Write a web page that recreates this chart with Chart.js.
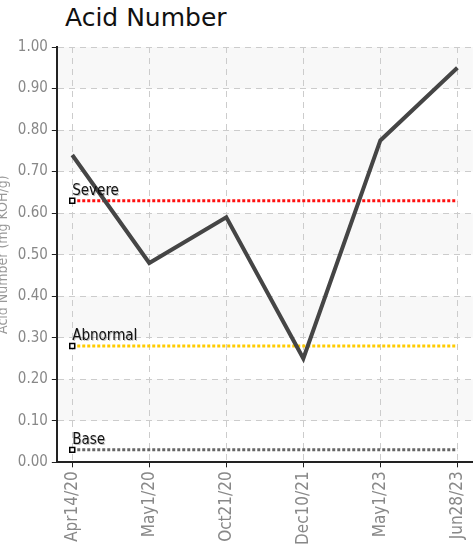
<!DOCTYPE html>
<html>
<head>
<meta charset="utf-8">
<script src="https://cdn.jsdelivr.net/npm/chart.js@4.4.0/dist/chart.umd.min.js"></script>
<style>
  html, body { margin: 0; padding: 0; background: #fff; overflow: hidden; }
  #wrap { position: relative; width: 474px; height: 549px; overflow: hidden; }
  #titulo { position: absolute; left: 65px; top: 3px; font: 25px "DejaVu Sans", sans-serif; color: #111; }
  #lienzo { position: absolute; left: -5px; top: 0; width: 487px; height: 549px; }
</style>
</head>
<body>
<div id="wrap">
  <div id="titulo">Acid Number</div>
  <div id="lienzo"><canvas id="grafico"></canvas></div>
</div>
<script>
// Datos de la gráfica
const fechas = ['Apr14/20', 'May1/20', 'Oct21/20', 'Dec10/21', 'May1/23', 'Jun28/23'];
const acidNumber = [0.74, 0.48, 0.59, 0.25, 0.775, 0.95];
const severo = 0.63;
const anormal = 0.28;
const base = 0.03;
const nombresLimites = ['Severe', 'Abnormal', 'Base'];

const fuente = '"DejaVu Sans Condensed", "Liberation Sans Narrow", sans-serif';

// puntos x,y a partir de las fechas
const puntos = (vals) => vals.map((v, i) => ({ x: i, y: v }));
const linea = (v) => fechas.map((f, i) => ({ x: i, y: v }));

// franjas grises alternas
const franjas = {
  id: 'franjas',
  beforeDraw(chart) {
    const { ctx, chartArea, scales } = chart;
    ctx.save();
    ctx.fillStyle = '#f8f8f8';
    for (let v = 0.1; v < 1.0; v += 0.2) {
      const y1 = scales.y.getPixelForValue(v + 0.1);
      const y2 = scales.y.getPixelForValue(v);
      ctx.fillRect(chartArea.left, y1, chartArea.right - chartArea.left, y2 - y1);
    }
    ctx.restore();
  }
};

// etiquetas de los limites
const etiquetas = {
  id: 'etiquetas',
  afterDatasetsDraw(chart) {
    const { ctx } = chart;
    ctx.save();
    ctx.font = '15px ' + fuente;
    ctx.textBaseline = 'alphabetic';
    [1, 2, 3].forEach((d, k) => {
      const p = chart.getDatasetMeta(d).data[0];
      ctx.fillStyle = 'rgba(0,0,0,0.25)';
      ctx.fillText(nombresLimites[k], p.x + 1, p.y - 5);
      ctx.fillStyle = '#111';
      ctx.fillText(nombresLimites[k], p.x, p.y - 6);
    });
    ctx.restore();
  }
};

function serieLimite(valor, color) {
  return {
    data: linea(valor),
    borderColor: color,
    borderWidth: 3,
    borderDash: [3, 2],
    pointRadius: [3.5, 0, 0, 0, 0, 0],
    pointStyle: 'rect',
    pointBackgroundColor: '#fff',
    pointBorderColor: '#000',
    pointBorderWidth: 1.5,
    fill: false
  };
}

new Chart(document.getElementById('grafico'), {
  type: 'line',
  data: {
    datasets: [
      {
        data: puntos(acidNumber),
        borderColor: '#454545',
        borderWidth: 4,
        pointRadius: 0,
        tension: 0
      },
      serieLimite(severo, '#ff1010'),
      serieLimite(anormal, '#ffcc00'),
      serieLimite(base, '#666666')
    ]
  },
  options: {
    responsive: true,
    maintainAspectRatio: false,
    animation: false,
    layout: { padding: { top: 47, right: 0, bottom: 0, left: 0 } },
    plugins: {
      legend: { display: false },
      tooltip: { enabled: false }
    },
    scales: {
      x: {
        type: 'linear',
        min: -0.2,
        max: 5.2,
        afterBuildTicks: (s) => { s.ticks = fechas.map((f, i) => ({ value: i })); },
        ticks: {
          autoSkip: false,
          minRotation: 90,
          maxRotation: 90,
          color: '#888',
          font: { family: fuente, size: 17 },
          padding: 4,
          callback: (v) => fechas[v]
        },
        grid: { color: '#cccccc', tickColor: '#222', tickLength: 5, tickBorderDash: [] },
        border: { color: '#222', width: 2, dash: [6, 5] }
      },
      y: {
        min: 0,
        max: 1,
        ticks: {
          stepSize: 0.1,
          color: '#888',
          font: { family: fuente, size: 15 },
          padding: 4,
          callback: (v) => v.toFixed(2)
        },
        title: {
          display: true,
          text: 'Acid Number (mg KOH/g)',
          color: '#999',
          font: { family: fuente, size: 14 },
          padding: { top: 0, bottom: 2 }
        },
        grid: { color: '#cccccc', tickColor: '#222', tickLength: 5, tickBorderDash: [] },
        border: { color: '#222', width: 2, dash: [6, 5] }
      }
    }
  },
  plugins: [franjas, etiquetas]
});
</script>
</body>
</html>
